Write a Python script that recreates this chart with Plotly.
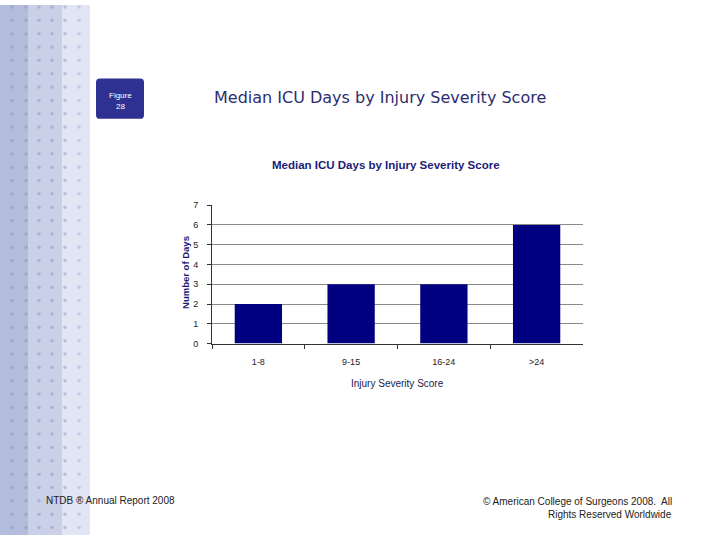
import plotly.graph_objects as go

categories = ["1-8", "9-15", "16-24", ">24"]
median_icu_days = [2, 3, 3, 6]
y_ticks = [0, 1, 2, 3, 4, 5, 6, 7]

W, H = 720, 540
NAVY = "#000080"

fig = go.Figure()

fig.add_trace(go.Bar(
    x=categories, y=median_icu_days, marker=dict(color=NAVY, line=dict(width=0)),
    xaxis="x", yaxis="y", showlegend=False, hoverinfo="x+y"))

# decorative dotted strip (pixel coordinate overlay)
dot_x, dot_y, dot_c = [], [], []
cols = [12, 26, 39, 52, 65, 79]
col_colors = ["#9ea7cc", "#9ea7cc", "#aab2d6", "#aab2d6", "#b8bfe0", "#c4c9e6"]
r = 2.0
while r < H:
    for cx, cc in zip(cols, col_colors):
        dot_x.append(cx); dot_y.append(r); dot_c.append(cc)
    r += 13.6
fig.add_trace(go.Scatter(
    x=dot_x, y=dot_y, mode="markers", xaxis="x2", yaxis="y2",
    marker=dict(size=3.5, color=dot_c, line=dict(width=0)),
    showlegend=False, hoverinfo="skip"))

shapes = [
    dict(type="rect", xref="x2", yref="y2", x0=0, x1=28, y0=-20, y1=H + 20,
         fillcolor="#b4bcdc", line=dict(width=0), layer="below"),
    dict(type="rect", xref="x2", yref="y2", x0=28, x1=62, y0=-20, y1=H + 20,
         fillcolor="#cad0e8", line=dict(width=0), layer="below"),
    dict(type="rect", xref="x2", yref="y2", x0=62, x1=90, y0=-20, y1=H + 20,
         fillcolor="#e2e5f3", line=dict(width=0), layer="below"),
    dict(type="path", xref="x2", yref="y2",
         path="M 100 75 L 140 75 Q 144 75 144 79 L 144 112 Q 144 116 140 116 "
              "L 100 116 Q 96 116 96 112 L 96 79 Q 96 75 100 75 Z",
         fillcolor="#2e3192", line=dict(width=0), layer="below"),
]

annotations = [
    dict(text="Figure", x=120, y=92, xref="x2", yref="y2", showarrow=False,
         font=dict(family="Liberation Sans", size=8, color="white")),
    dict(text="28", x=120, y=103, xref="x2", yref="y2", showarrow=False,
         font=dict(family="Liberation Sans", size=8, color="white")),
    dict(text="Median ICU Days by Injury Severity Score", x=380, y=94,
         xref="x2", yref="y2", showarrow=False,
         font=dict(family="DejaVu Sans", size=16, color="#2d2d70")),
    dict(text="<b>Median ICU Days by Injury Severity Score</b>", x=386, y=163,
         xref="x2", yref="y2", showarrow=False,
         font=dict(family="Liberation Sans", size=11.5, color="#1c1c78")),
    dict(text="<b>Number of Days</b>", x=186, y=273, xref="x2", yref="y2",
         showarrow=False, textangle=-90,
         font=dict(family="Liberation Sans", size=9.5, color="#1c1c78")),
    dict(text="Injury Severity Score", x=397, y=386, xref="x2", yref="y2",
         showarrow=False,
         font=dict(family="Liberation Sans", size=10, color="#1c1c50")),
    dict(text="NTDB ® Annual Report 2008", x=44, y=505, xref="x2", yref="y2",
         showarrow=False, xanchor="left",
         font=dict(family="Liberation Sans", size=10, color="#222222")),
    dict(text="© American College of Surgeons 2008.  All", x=674, y=506,
         xref="x2", yref="y2", showarrow=False, xanchor="right",
         font=dict(family="Liberation Sans", size=10, color="#222222")),
    dict(text="Rights Reserved Worldwide", x=674, y=519,
         xref="x2", yref="y2", showarrow=False, xanchor="right",
         font=dict(family="Liberation Sans", size=10, color="#222222")),
]

fig.update_layout(
    width=W, height=H, margin=dict(l=0, r=0, t=0, b=0),
    paper_bgcolor="white", plot_bgcolor="rgba(0,0,0,0)",
    bargap=0.49,
    xaxis=dict(domain=[212 / W, 583 / W], anchor="y",
               showline=True, linecolor="#333333", linewidth=1,
               ticks="outside", tickson="boundaries", ticklen=4, tickcolor="#333333",
               ticklabelstandoff=10,
               showgrid=False, tickfont=dict(family="Liberation Sans", size=9, color="#222222"),
               fixedrange=True),
    yaxis=dict(domain=[(H - 345) / H, (H - 204) / H], anchor="x",
               range=[0, 7], tickvals=y_ticks,
               showline=True, linecolor="#333333", linewidth=1,
               ticks="outside", ticklen=4, tickcolor="#333333",
               ticklabelstandoff=7,
               showgrid=True, gridcolor="#8a8a8a", gridwidth=1,
               zeroline=False,
               tickfont=dict(family="Liberation Sans", size=9, color="#222222"),
               fixedrange=True),
    xaxis2=dict(domain=[0, 1], anchor="y2", range=[0, W], visible=False,
                fixedrange=True),
    yaxis2=dict(domain=[0, 1], anchor="x2", range=[H, 0], visible=False,
                fixedrange=True),
    shapes=shapes, annotations=annotations,
)

fig.write_html(
    "out.html", config={"displayModeBar": False},
    post_script=(
        "document.documentElement.style.margin='0';"
        "document.documentElement.style.padding='0';"
        "document.documentElement.style.overflow='hidden';"
        "document.body.style.margin='0';"
        "document.body.style.padding='0';"
        "document.body.style.overflow='hidden';"
        "window.scrollTo(0,0);"
    ),
)
